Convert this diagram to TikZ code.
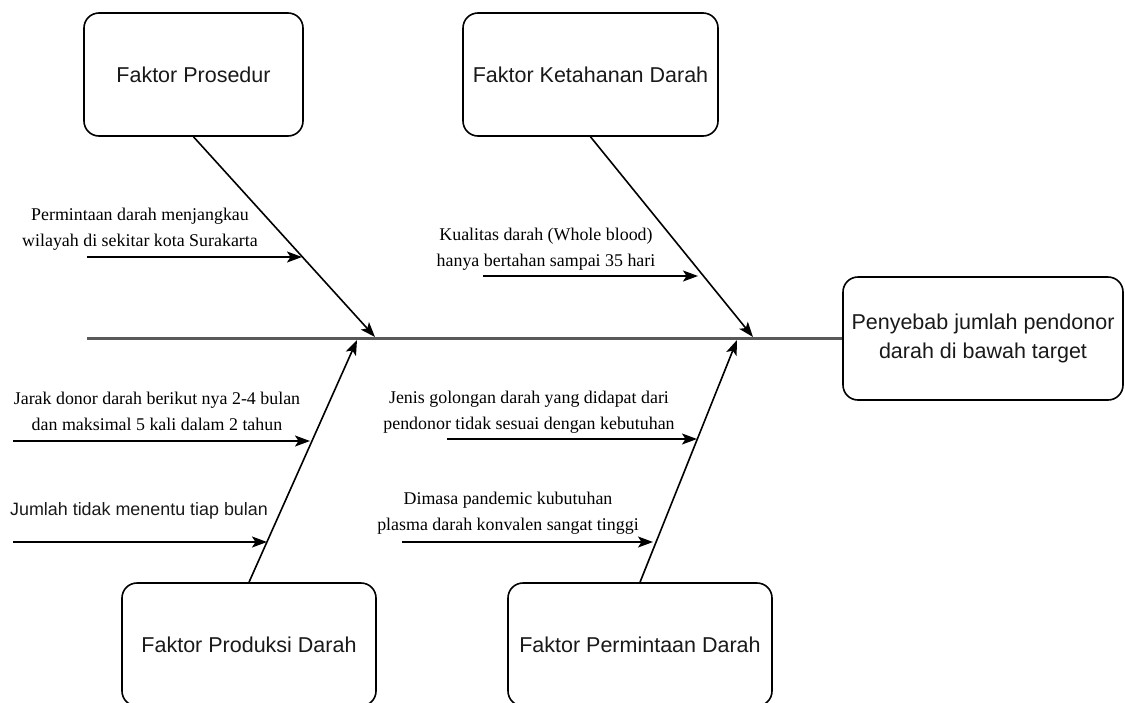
\documentclass[tikz,border=0pt]{standalone}
\usepackage{fontspec}
\setmainfont{Liberation Serif}
\setsansfont{Liberation Sans}
\usetikzlibrary{arrows.meta}
\begin{document}
\begin{tikzpicture}[x=1pt,y=-1pt,
  box/.style={draw, line width=1.6pt, rounded corners=15pt, inner sep=0pt,
    font=\sffamily\fontsize{21.5}{29}\selectfont, text=black!90, align=center},
  lbl/.style={inner sep=0pt, align=center, font=\fontsize{17.9}{26}\selectfont, text=black},
  slbl/.style={inner sep=0pt, align=center, font=\sffamily\fontsize{17.9}{26}\selectfont, text=black!90},
  arr/.style={line width=1.6pt, -{Stealth[length=15pt,width=11pt,inset=3.5pt]}},
  spine/.style={line width=2.4pt, draw=black!65},
]
\useasboundingbox (0,0) rectangle (1125,702);
\clip (0,0) rectangle (1125,702);

% category boxes
\node[box, minimum width=219pt, minimum height=123pt] (prosedur) at (193.5,74.5) {Faktor Prosedur};
\node[box, minimum width=255pt, minimum height=123pt] (ketahanan) at (590.5,74.5) {Faktor Ketahanan Darah};
\node[box, minimum width=254pt, minimum height=123pt] (produksi) at (249,644.5) {Faktor Produksi Darah};
\node[box, minimum width=264pt, minimum height=123pt] (permintaan) at (640,644.5) {Faktor Permintaan Darah};
\node[box, minimum width=280pt, minimum height=123pt] (effect) at (983,338.5) {Penyebab jumlah pendonor\\darah di bawah target};

% spine
\coordinate (spinestart) at (87,338.5);
\draw[spine] (spinestart) -- (effect.west);

% diagonal ends on spine
\coordinate (d1) at (375,337);
\coordinate (d2) at (753,337);
\coordinate (d3) at (357,340);
\coordinate (d4) at (737,340);
\draw[arr] (prosedur.south) -- (d1);
\draw[arr] (ketahanan.south) -- (d2);
\draw[arr] (produksi.north) -- (d3);
\draw[arr] (permintaan.north) -- (d4);

% sub causes
\coordinate (a1s) at (87,257);  \coordinate (a1e) at (302,257);
\coordinate (a2s) at (483,276); \coordinate (a2e) at (698,276);
\coordinate (a3s) at (13,441);  \coordinate (a3e) at (310,441);
\coordinate (a4s) at (13,542);  \coordinate (a4e) at (267,542);
\coordinate (a5s) at (447,439); \coordinate (a5e) at (697,439);
\coordinate (a6s) at (402,542); \coordinate (a6e) at (653,542);
\draw[arr] (a1s) -- (a1e);
\draw[arr] (a2s) -- (a2e);
\draw[arr] (a3s) -- (a3e);
\draw[arr] (a4s) -- (a4e);
\draw[arr] (a5s) -- (a5e);
\draw[arr] (a6s) -- (a6e);

% labels
\node[lbl] (l1) at (140,229) {Permintaan darah menjangkau\\wilayah di sekitar kota Surakarta};
\node[lbl] (l2) at (546,249) {Kualitas darah (Whole blood)\\hanya bertahan sampai 35 hari};
\node[lbl] (l3) at (157,411) {Jarak donor darah berikut nya 2-4 bulan\\dan maksimal 5 kali dalam 2 tahun};
\node[slbl] (l4) at (139,511) {Jumlah tidak menentu tiap bulan};
\node[lbl] (l5) at (529,412) {Jenis golongan darah yang didapat dari\\pendonor tidak sesuai dengan kebutuhan};
\node[lbl] (l6) at (508,513) {Dimasa pandemic kubutuhan\\plasma darah konvalen sangat tinggi};
\end{tikzpicture}
\end{document}
